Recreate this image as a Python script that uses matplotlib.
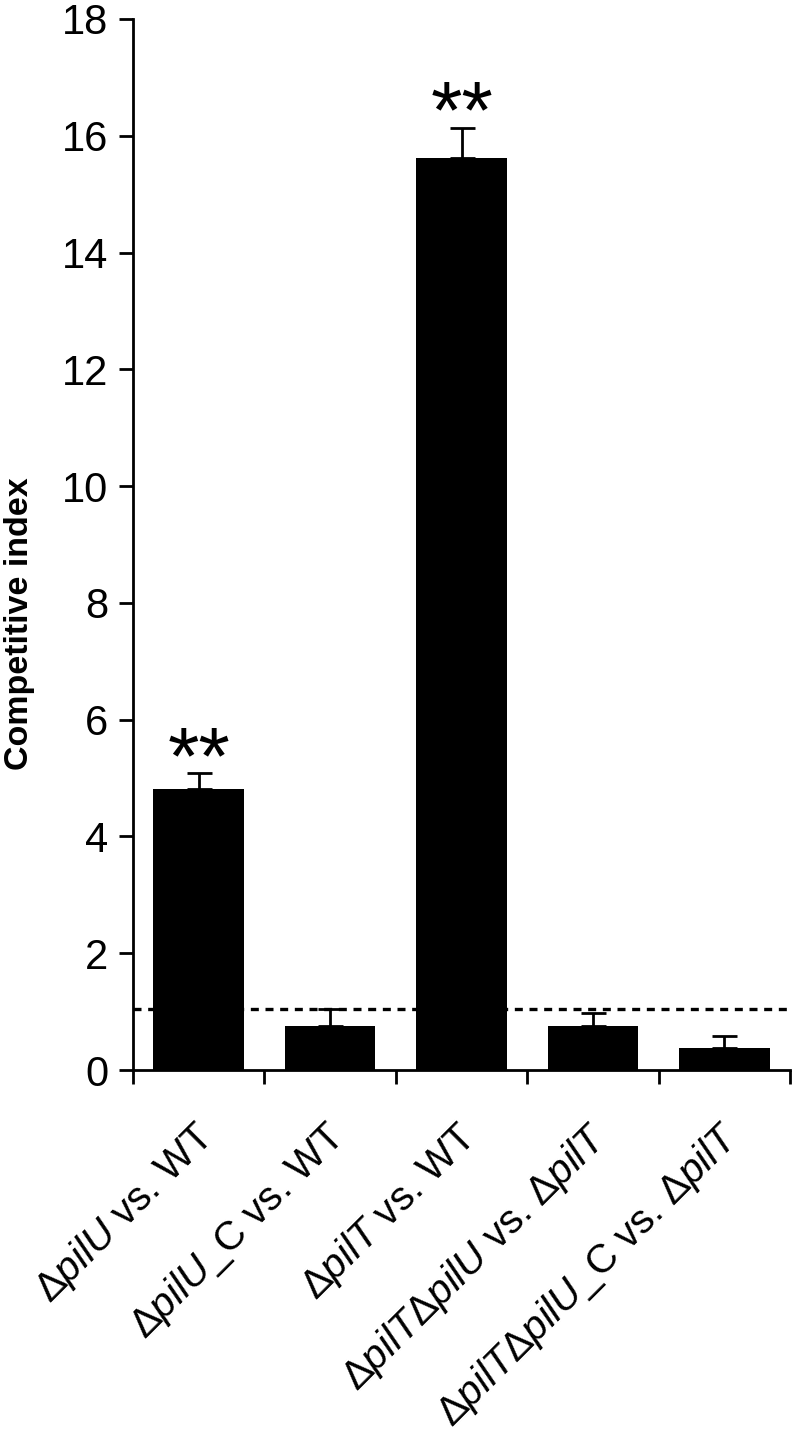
import matplotlib
matplotlib.use("Agg")
import matplotlib.pyplot as plt
import matplotlib.transforms as mtransforms
import numpy as np

plt.rcParams['font.family'] = ['Liberation Sans', 'DejaVu Sans']
plt.rcParams['mathtext.fontset'] = 'custom'
plt.rcParams['mathtext.rm'] = 'Liberation Sans'
plt.rcParams['mathtext.it'] = 'Liberation Sans:italic'
plt.rcParams['mathtext.bf'] = 'Liberation Sans:bold'

categories = [r'Δ$\mathit{pilU}$ vs. WT',
              r'Δ$\mathit{pilU}$_C vs. WT',
              r'Δ$\mathit{pilT}$ vs. WT',
              r'Δ$\mathit{pilT}$Δ$\mathit{pilU}$ vs. Δ$\mathit{pilT}$',
              r'Δ$\mathit{pilT}$Δ$\mathit{pilU}$_C vs. Δ$\mathit{pilT}$']
values = [4.81, 0.75, 15.62, 0.75, 0.38]
errors = [0.27, 0.29, 0.52, 0.22, 0.20]
signif = ['**', '', '**', '', '']
baseline = 1.04
yticks = [0, 2, 4, 6, 8, 10, 12, 14, 16, 18]

fig = plt.figure(figsize=(7.92, 14.34), dpi=100)
ax = fig.add_axes([0.168, 0.2538, 0.8295, 0.733])

x = np.arange(len(categories))
ax.axhline(baseline, color='black', linestyle=(0, (2.4, 2.0)), linewidth=2.4, zorder=1)
ax.bar(x, values, width=0.69, color='black', zorder=2)
ax.errorbar(x, values, yerr=[np.zeros(len(values)), errors], fmt='none',
            ecolor='black', elinewidth=2, capsize=9, capthick=2, zorder=3)
for xi, v, e, s in zip(x, values, errors, signif):
    if s:
        ax.text(xi, v + e - 0.17, s, ha='center', va='baseline', fontsize=58)

ax.set_xlim(-0.5, len(categories) - 0.5)
ax.set_ylim(0, 18)
ax.set_yticks(yticks)
ax.set_yticklabels([str(t) for t in yticks], fontsize=30)
ax.set_xticks(np.arange(len(categories) + 1) - 0.5, minor=False)
ax.set_xticklabels([])
ax.tick_params(axis='x', direction='out', length=10, width=2)
ax.tick_params(axis='y', direction='out', length=10, width=2, pad=8)
for side in ['top', 'right']:
    ax.spines[side].set_visible(False)
for side in ['left', 'bottom']:
    ax.spines[side].set_linewidth(2)

offset = mtransforms.ScaledTranslation(-0.06, -0.46, fig.dpi_scale_trans)
for xi, lab in zip(x, categories):
    ax.text(xi, 0, lab, rotation=45, ha='right', va='top', rotation_mode='anchor',
            fontsize=29, transform=ax.get_xaxis_transform() + offset)

ax.set_ylabel('Competitive index', fontsize=24.5, fontweight='bold', va='center')
ax.yaxis.set_label_coords(-0.1735, 0.4244)

fig.savefig('out.png', dpi=100)
